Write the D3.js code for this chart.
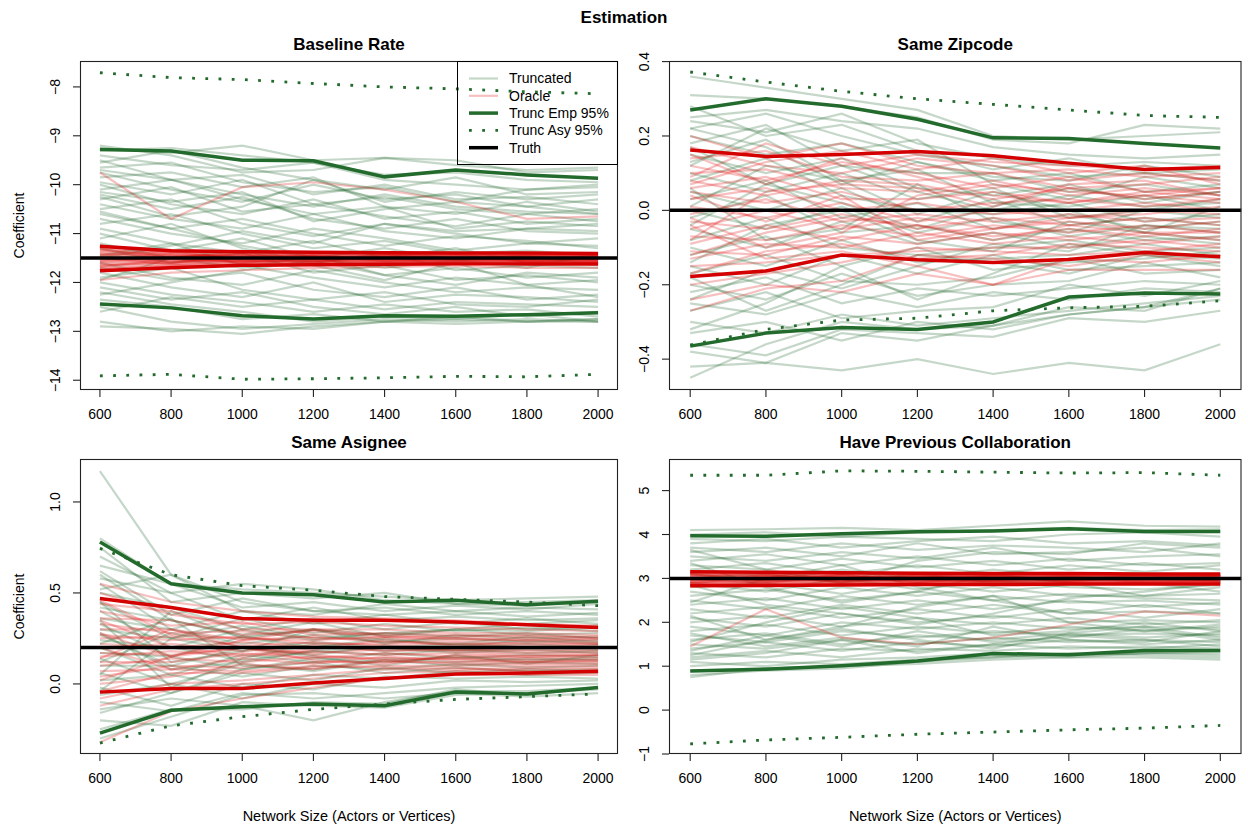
<!DOCTYPE html>
<html lang="en">
<head>
<meta charset="UTF-8">
<title>Estimation</title>
<script src="https://d3js.org/d3.v7.min.js"></script>
<style>
body { margin: 0; background: #fff; }
text { font-family: "Liberation Sans", Arial, Helvetica, sans-serif; fill: #000; }
.main { font-size: 17px; font-weight: bold; }
.lbl { font-size: 14px; }
</style>
</head>
<body>
<svg width="1248" height="826"></svg>
<script>
// network sizes on the x axis
var sizes = [600, 800, 1000, 1200, 1400, 1600, 1800, 2000];
var titles = ["Baseline Rate", "Same Zipcode", "Same Asignee", "Have Previous Collaboration"];
var legendLabels = ["Truncated", "Oracle", "Trunc Emp 95%", "Trunc Asy 95%", "Truth"];

// ---- Baseline Rate ----
var baseTrunc = [
  [-9.25,-9.35,-9.2,-9.5,-9.45,-9.6,-9.7,-9.65],
  [-9.3,-9.25,-9.4,-9.55,-9.8,-9.75,-9.9,-9.95],
  [-9.4,-9.6,-9.7,-9.55,-9.9,-10.0,-10.1,-10.05],
  [-9.55,-9.3,-9.65,-9.9,-10.1,-9.85,-10.2,-10.15],
  [-9.7,-9.9,-9.8,-10.2,-10.0,-10.3,-10.25,-10.4],
  [-9.75,-10.1,-10.35,-10.0,-10.3,-10.2,-10.45,-10.3],
  [-9.85,-9.75,-10.05,-9.85,-10.45,-10.6,-10.35,-10.55],
  [-9.95,-10.2,-9.9,-10.4,-10.25,-10.5,-10.6,-10.5],
  [-10.0,-10.4,-10.6,-10.3,-10.7,-10.55,-10.8,-10.7],
  [-10.1,-9.9,-10.3,-10.6,-10.45,-10.9,-10.75,-10.85],
  [-10.2,-10.5,-10.25,-10.7,-10.9,-10.7,-10.95,-11.0],
  [-10.3,-10.05,-10.55,-10.4,-10.65,-10.85,-10.6,-10.75],
  [-10.4,-10.7,-10.9,-10.6,-10.95,-11.1,-10.9,-10.95],
  [-10.5,-10.3,-10.8,-11.05,-10.8,-11.0,-11.2,-11.1],
  [-10.6,-10.9,-10.7,-11.0,-11.25,-11.05,-11.15,-11.3],
  [-10.7,-11.0,-11.2,-10.9,-11.1,-11.35,-11.2,-11.25],
  [-10.8,-10.6,-11.0,-11.3,-11.15,-11.4,-11.35,-11.45],
  [-10.9,-11.2,-11.4,-11.15,-11.5,-11.3,-11.6,-11.5],
  [-11.0,-11.35,-11.1,-11.5,-11.7,-11.55,-11.45,-11.65],
  [-11.1,-10.8,-11.3,-11.6,-11.4,-11.75,-11.65,-11.7],
  [-11.2,-11.5,-11.7,-11.45,-11.85,-11.7,-11.9,-11.8],
  [-11.3,-11.6,-11.4,-11.8,-11.65,-11.95,-11.85,-12.0],
  [-11.45,-11.2,-11.65,-11.9,-12.1,-11.9,-12.05,-11.95],
  [-11.6,-11.9,-12.05,-11.75,-12.0,-12.2,-12.1,-12.15],
  [-11.7,-11.95,-11.8,-12.15,-12.3,-12.1,-12.35,-12.25],
  [-11.8,-12.1,-12.3,-12.0,-12.4,-12.25,-12.3,-12.4],
  [-11.9,-11.7,-12.15,-12.35,-12.2,-12.45,-12.5,-12.35],
  [-12.0,-12.25,-12.4,-12.6,-12.45,-12.6,-12.55,-12.7],
  [-12.1,-12.35,-12.2,-12.5,-12.65,-12.5,-12.7,-12.6],
  [-12.2,-12.45,-12.6,-12.8,-12.7,-12.75,-12.65,-12.8],
  [-12.35,-12.5,-12.75,-12.65,-12.8,-12.7,-12.8,-12.75],
  [-12.5,-12.8,-12.95,-12.85,-12.75,-12.8,-12.75,-12.8],
  [-12.8,-13.0,-12.9,-12.95,-12.8,-12.85,-12.8,-12.75],
  [-12.9,-12.95,-13.05,-12.9,-12.8,-12.75,-12.8,-12.8],
  [-10.25,-10.65,-10.45,-9.9,-10.35,-10.15,-10.3,-10.2],
  [-11.5,-11.25,-10.95,-11.2,-10.8,-10.95,-10.9,-10.8],
  [-9.5,-9.9,-10.2,-10.45,-10.2,-10.45,-10.55,-10.6],
  [-12.25,-12.0,-11.75,-11.55,-11.85,-12.05,-11.8,-11.9],
  [-10.55,-10.9,-11.25,-11.5,-11.3,-11.55,-11.7,-11.4],
  [-11.95,-11.5,-11.35,-11.65,-11.95,-11.6,-12.05,-12.3],
  [-9.2,-9.4,-9.75,-9.7,-9.45,-9.5,-9.75,-9.7],
  [-10.15,-10.35,-10.15,-10.75,-10.5,-10.35,-10.45,-10.6],
  [-12.6,-12.3,-12.5,-12.35,-12.55,-12.4,-12.45,-12.5],
  [-9.65,-9.55,-9.95,-10.15,-10.05,-10.35,-10.1,-10.0]
];
var baseOracle = [
  [-11.3,-11.4,-11.45,-11.42,-11.45,-11.44,-11.45,-11.43],
  [-11.35,-11.45,-11.5,-11.48,-11.46,-11.5,-11.47,-11.46],
  [-11.4,-11.5,-11.42,-11.52,-11.5,-11.47,-11.52,-11.5],
  [-11.45,-11.35,-11.55,-11.45,-11.52,-11.55,-11.5,-11.52],
  [-11.5,-11.6,-11.48,-11.55,-11.48,-11.52,-11.55,-11.54],
  [-11.55,-11.45,-11.6,-11.5,-11.56,-11.5,-11.53,-11.56],
  [-11.6,-11.55,-11.52,-11.58,-11.54,-11.57,-11.55,-11.58],
  [-11.65,-11.62,-11.58,-11.6,-11.58,-11.56,-11.58,-11.6],
  [-11.7,-11.65,-11.6,-11.55,-11.6,-11.6,-11.57,-11.59],
  [-11.25,-11.38,-11.4,-11.4,-11.42,-11.42,-11.43,-11.44],
  [-11.75,-11.68,-11.63,-11.62,-11.61,-11.6,-11.6,-11.61],
  [-11.42,-11.47,-11.44,-11.47,-11.49,-11.46,-11.48,-11.47],
  [-11.58,-11.5,-11.54,-11.5,-11.5,-11.53,-11.51,-11.53],
  [-11.48,-11.55,-11.57,-11.54,-11.53,-11.52,-11.54,-11.49],
  [-11.62,-11.6,-11.47,-11.46,-11.55,-11.58,-11.49,-11.52],
  [-11.33,-11.42,-11.5,-11.56,-11.52,-11.49,-11.56,-11.55],
  [-11.28,-11.36,-11.4,-11.41,-11.43,-11.43,-11.44,-11.42],
  [-11.72,-11.66,-11.62,-11.6,-11.59,-11.59,-11.59,-11.6],
  [-11.38,-11.44,-11.46,-11.44,-11.47,-11.48,-11.46,-11.45],
  [-11.66,-11.58,-11.56,-11.57,-11.56,-11.55,-11.57,-11.57],
  [-11.52,-11.4,-11.49,-11.52,-11.44,-11.45,-11.5,-11.48],
  [-11.44,-11.58,-11.52,-11.43,-11.57,-11.54,-11.45,-11.55],
  [-11.56,-11.48,-11.43,-11.53,-11.47,-11.51,-11.53,-11.44],
  [-11.68,-11.52,-11.58,-11.49,-11.51,-11.44,-11.47,-11.58],
  [-11.32,-11.5,-11.38,-11.46,-11.41,-11.52,-11.42,-11.5],
  [-11.5,-11.63,-11.55,-11.59,-11.45,-11.41,-11.58,-11.46],
  [-9.75,-10.7,-10.05,-9.95,-10.1,-10.35,-10.7,-10.65],
  [-11.95,-11.8,-11.75,-11.7,-11.68,-11.66,-11.7,-11.7]
];
var baseEmpHi = [-9.28,-9.31,-9.5,-9.51,-9.84,-9.7,-9.8,-9.87];
var baseEmpLo = [-12.44,-12.52,-12.68,-12.75,-12.68,-12.69,-12.66,-12.62];
var baseAsyHi = [-7.71,-7.81,-7.85,-7.93,-8.0,-8.04,-8.1,-8.14];
var baseAsyLo = [-13.91,-13.88,-13.98,-13.97,-13.95,-13.92,-13.93,-13.88];
var baseOrHi = [-11.26,-11.35,-11.37,-11.38,-11.39,-11.4,-11.4,-11.41];
var baseOrLo = [-11.76,-11.7,-11.65,-11.64,-11.63,-11.62,-11.62,-11.62];
var baseTruth = -11.5;

// ---- Same Zipcode ----
var zipTrunc = [
  [0.36,0.33,0.3,0.27,0.2,0.19,0.2,0.21],
  [0.31,0.3,0.28,0.25,0.19,0.18,0.23,0.22],
  [0.25,0.27,0.24,0.22,0.17,0.15,0.14,0.15],
  [0.24,0.21,0.26,0.18,0.14,0.12,0.13,0.12],
  [0.22,0.26,0.2,0.15,0.12,0.09,0.1,0.08],
  [0.2,0.15,0.18,0.13,0.08,0.1,0.05,0.07],
  [0.18,0.23,0.12,0.1,0.1,0.05,0.07,0.04],
  [0.15,0.1,0.14,0.06,0.04,0.07,0.02,0.05],
  [0.13,0.19,0.08,0.11,0.02,0.01,0.04,0.0],
  [0.1,0.05,0.1,0.03,0.06,-0.02,0.0,0.03],
  [0.08,0.14,0.04,0.0,-0.01,0.02,-0.03,-0.01],
  [0.05,0.0,0.06,-0.03,0.03,-0.04,-0.02,-0.04],
  [0.03,0.08,-0.02,0.02,-0.05,-0.01,-0.05,-0.03],
  [0.0,-0.05,0.01,-0.06,-0.02,-0.07,-0.04,-0.06],
  [-0.02,0.04,-0.06,-0.04,-0.08,-0.05,-0.08,-0.07],
  [-0.05,-0.1,-0.03,-0.09,-0.06,-0.1,-0.07,-0.09],
  [-0.08,-0.02,-0.1,-0.12,-0.1,-0.08,-0.11,-0.1],
  [-0.1,-0.15,-0.08,-0.14,-0.13,-0.12,-0.09,-0.12],
  [-0.12,-0.07,-0.15,-0.1,-0.16,-0.14,-0.13,-0.11],
  [-0.15,-0.2,-0.12,-0.17,-0.12,-0.16,-0.15,-0.14],
  [-0.17,-0.12,-0.19,-0.2,-0.18,-0.13,-0.17,-0.16],
  [-0.2,-0.24,-0.17,-0.23,-0.2,-0.19,-0.14,-0.18],
  [-0.22,-0.18,-0.25,-0.21,-0.23,-0.21,-0.19,-0.2],
  [-0.25,-0.28,-0.22,-0.26,-0.22,-0.24,-0.21,-0.22],
  [-0.27,-0.22,-0.29,-0.27,-0.26,-0.2,-0.23,-0.19],
  [-0.3,-0.33,-0.28,-0.31,-0.29,-0.27,-0.25,-0.23],
  [-0.33,-0.3,-0.35,-0.3,-0.32,-0.28,-0.26,-0.24],
  [-0.36,-0.39,-0.32,-0.33,-0.34,-0.29,-0.3,-0.27],
  [-0.38,-0.41,-0.33,-0.35,-0.31,-0.26,-0.27,-0.21],
  [-0.42,-0.41,-0.43,-0.4,-0.44,-0.41,-0.43,-0.36],
  [-0.45,-0.36,-0.3,-0.32,-0.31,-0.28,-0.26,-0.21],
  [0.28,0.2,0.23,0.16,0.11,0.14,0.1,0.11],
  [0.12,0.22,0.16,0.19,0.07,0.03,0.09,0.06],
  [-0.04,0.07,0.12,0.05,0.0,0.04,0.01,0.02],
  [0.06,-0.08,-0.05,0.07,-0.03,-0.06,0.0,-0.02],
  [-0.14,-0.04,0.0,-0.08,-0.11,-0.03,-0.06,-0.08],
  [0.17,0.07,0.02,-0.05,0.01,0.06,0.03,0.05],
  [-0.24,-0.16,-0.21,-0.15,-0.09,-0.11,-0.04,-0.05],
  [-0.32,-0.25,-0.15,-0.24,-0.17,-0.09,-0.12,-0.13],
  [0.01,0.12,0.08,-0.01,0.05,0.0,-0.06,0.01],
  [-0.18,-0.27,-0.2,-0.12,-0.14,-0.17,-0.12,-0.15],
  [0.22,0.17,0.07,0.13,0.09,0.08,0.12,0.09]
];
var zipOracle = [
  [0.2,0.14,0.18,0.12,0.1,0.11,0.09,0.1],
  [0.17,0.12,0.1,0.14,0.12,0.08,0.1,0.08],
  [0.14,0.16,0.09,0.08,0.1,0.06,0.07,0.09],
  [0.12,0.08,0.13,0.1,0.06,0.09,0.05,0.06],
  [0.1,0.11,0.06,0.05,0.08,0.04,0.06,0.04],
  [0.08,0.04,0.08,0.07,0.03,0.06,0.03,0.05],
  [0.06,0.09,0.03,0.03,0.05,0.02,0.04,0.02],
  [0.05,0.02,0.05,0.0,0.02,0.03,0.01,0.03],
  [0.03,0.06,0.0,0.02,-0.01,0.0,0.02,0.0],
  [0.01,-0.02,0.02,-0.03,0.0,-0.02,-0.01,0.01],
  [-0.01,0.03,-0.03,-0.01,-0.03,-0.01,-0.03,-0.02],
  [-0.03,-0.05,-0.01,-0.05,-0.02,-0.04,-0.02,-0.04],
  [-0.05,0.0,-0.05,-0.02,-0.05,-0.03,-0.05,-0.03],
  [-0.07,-0.08,-0.04,-0.07,-0.04,-0.06,-0.04,-0.06],
  [-0.09,-0.04,-0.08,-0.04,-0.07,-0.05,-0.07,-0.05],
  [-0.11,-0.12,-0.07,-0.09,-0.06,-0.08,-0.06,-0.08],
  [-0.13,-0.09,-0.1,-0.06,-0.09,-0.07,-0.09,-0.07],
  [-0.15,-0.14,-0.12,-0.11,-0.1,-0.1,-0.08,-0.1],
  [-0.17,-0.11,-0.09,-0.13,-0.12,-0.09,-0.1,-0.11],
  [-0.2,-0.17,-0.14,-0.1,-0.11,-0.12,-0.11,-0.09],
  [-0.24,-0.2,-0.22,-0.17,-0.2,-0.16,-0.16,-0.16],
  [-0.27,-0.21,-0.19,-0.12,-0.13,-0.15,-0.12,-0.14],
  [0.09,0.18,0.12,0.15,0.13,0.12,0.11,0.12],
  [-0.02,-0.1,-0.06,0.04,0.07,0.05,0.04,0.06],
  [0.04,-0.03,0.04,-0.08,-0.05,-0.02,0.0,-0.01],
  [0.15,0.07,0.14,0.09,0.04,0.02,0.05,0.03],
  [-0.08,0.05,0.07,0.06,0.01,0.07,0.08,0.04],
  [-0.12,-0.06,-0.02,-0.04,-0.08,-0.04,-0.06,-0.06],
  [0.07,0.13,0.16,0.11,0.14,0.1,0.12,0.07],
  [-0.04,-0.13,-0.11,-0.15,-0.2,-0.13,-0.14,-0.12]
];
var zipEmpHi = [0.27,0.3,0.28,0.245,0.195,0.193,0.18,0.168];
var zipEmpLo = [-0.365,-0.33,-0.315,-0.32,-0.3,-0.233,-0.222,-0.225];
var zipAsyHi = [0.372,0.345,0.32,0.3,0.285,0.27,0.255,0.25];
var zipAsyLo = [-0.362,-0.32,-0.295,-0.29,-0.27,-0.262,-0.258,-0.243];
var zipOrHi = [0.162,0.145,0.15,0.158,0.147,0.127,0.11,0.115];
var zipOrLo = [-0.178,-0.163,-0.12,-0.133,-0.14,-0.132,-0.113,-0.125];
var zipTruth = 0;

// ---- Same Asignee ----
var asgTrunc = [
  [1.17,0.6,0.45,0.4,0.38,0.4,0.37,0.39],
  [0.8,0.55,0.52,0.5,0.48,0.46,0.47,0.48],
  [0.75,0.45,0.5,0.47,0.5,0.44,0.45,0.46],
  [0.65,0.55,0.42,0.45,0.4,0.43,0.41,0.44],
  [0.62,0.38,0.47,0.4,0.42,0.38,0.4,0.38],
  [0.58,0.5,0.35,0.42,0.35,0.37,0.35,0.36],
  [0.55,0.3,0.4,0.33,0.38,0.33,0.36,0.33],
  [0.5,0.42,0.3,0.36,0.3,0.34,0.3,0.32],
  [0.45,0.25,0.36,0.28,0.33,0.29,0.31,0.29],
  [0.42,0.35,0.26,0.3,0.27,0.3,0.27,0.28],
  [0.4,0.2,0.3,0.24,0.28,0.26,0.28,0.25],
  [0.36,0.3,0.22,0.27,0.23,0.25,0.23,0.24],
  [0.33,0.15,0.26,0.2,0.25,0.21,0.24,0.22],
  [0.3,0.25,0.18,0.23,0.2,0.22,0.2,0.21],
  [0.27,0.1,0.2,0.16,0.21,0.18,0.2,0.19],
  [0.24,0.2,0.13,0.18,0.16,0.19,0.17,0.18],
  [0.2,0.05,0.16,0.12,0.17,0.14,0.16,0.15],
  [0.17,0.15,0.08,0.14,0.12,0.15,0.13,0.14],
  [0.14,0.0,0.11,0.07,0.13,0.1,0.12,0.11],
  [0.1,0.1,0.04,0.1,0.08,0.11,0.09,0.1],
  [0.06,-0.05,0.06,0.02,0.09,0.06,0.08,0.07],
  [0.02,0.05,-0.02,0.05,0.03,0.07,0.05,0.06],
  [-0.02,-0.12,0.0,-0.03,0.04,0.03,0.04,0.03],
  [-0.06,0.0,-0.08,0.0,-0.02,0.02,0.01,0.02],
  [-0.1,-0.15,-0.05,-0.08,-0.05,-0.02,-0.01,0.0],
  [-0.14,-0.08,-0.12,-0.2,-0.1,-0.04,-0.04,-0.02],
  [-0.2,-0.23,-0.1,-0.12,-0.13,-0.06,-0.05,-0.03],
  [-0.25,-0.14,-0.14,-0.1,-0.11,-0.03,-0.06,-0.02],
  [-0.3,-0.18,-0.06,-0.05,-0.08,-0.05,-0.07,-0.05],
  [0.52,0.6,0.4,0.38,0.44,0.4,0.42,0.41],
  [0.05,0.4,0.25,0.3,0.22,0.27,0.25,0.26],
  [0.35,-0.02,0.14,0.22,0.18,0.2,0.22,0.2],
  [-0.04,0.25,0.32,0.25,0.28,0.3,0.29,0.31],
  [0.22,0.36,0.1,0.08,0.14,0.12,0.14,0.13],
  [0.6,0.35,0.27,0.34,0.26,0.3,0.33,0.35],
  [0.12,0.28,0.2,0.15,0.1,0.16,0.11,0.16],
  [0.45,0.12,0.18,0.3,0.24,0.22,0.26,0.23],
  [-0.16,-0.05,0.08,0.12,0.06,0.09,0.07,0.08],
  [0.7,0.5,0.55,0.52,0.46,0.44,0.43,0.45],
  [0.28,0.08,0.12,0.18,0.2,0.17,0.19,0.17]
];
var asgOracle = [
  [0.55,0.45,0.4,0.37,0.36,0.35,0.33,0.32],
  [0.5,0.38,0.33,0.34,0.32,0.31,0.3,0.29],
  [0.44,0.4,0.3,0.3,0.3,0.28,0.28,0.27],
  [0.4,0.32,0.34,0.27,0.28,0.27,0.26,0.26],
  [0.36,0.35,0.27,0.29,0.26,0.25,0.25,0.24],
  [0.33,0.28,0.29,0.25,0.25,0.24,0.24,0.23],
  [0.3,0.3,0.24,0.26,0.23,0.23,0.22,0.22],
  [0.27,0.24,0.26,0.22,0.22,0.22,0.21,0.21],
  [0.25,0.26,0.21,0.23,0.21,0.2,0.2,0.2],
  [0.22,0.2,0.23,0.2,0.2,0.19,0.19,0.19],
  [0.2,0.22,0.18,0.21,0.18,0.19,0.18,0.18],
  [0.17,0.16,0.2,0.17,0.19,0.18,0.17,0.17],
  [0.15,0.18,0.15,0.18,0.16,0.17,0.16,0.16],
  [0.12,0.12,0.17,0.14,0.17,0.15,0.15,0.15],
  [0.1,0.14,0.12,0.15,0.14,0.14,0.14,0.14],
  [0.07,0.08,0.14,0.11,0.15,0.13,0.13,0.13],
  [0.04,0.1,0.09,0.12,0.12,0.12,0.12,0.12],
  [0.0,0.04,0.11,0.08,0.13,0.11,0.11,0.11],
  [-0.04,0.06,0.06,0.09,0.1,0.1,0.1,0.1],
  [-0.08,0.0,0.02,0.05,0.08,0.08,0.09,0.09],
  [-0.12,-0.03,0.0,0.03,0.06,0.07,0.08,0.08],
  [-0.32,-0.15,-0.08,-0.02,0.03,0.05,0.05,0.05],
  [0.28,0.15,0.24,0.3,0.27,0.26,0.27,0.25],
  [0.14,0.3,0.2,0.13,0.11,0.16,0.15,0.16],
  [0.35,0.2,0.16,0.19,0.24,0.21,0.23,0.22],
  [0.02,0.15,0.2,0.16,0.13,0.14,0.12,0.13],
  [0.2,0.08,0.07,0.1,0.09,0.09,0.07,0.06],
  [0.46,0.27,0.25,0.24,0.26,0.25,0.24,0.25]
];
var asgEmpHi = [0.78,0.55,0.5,0.49,0.45,0.46,0.435,0.455];
var asgEmpLo = [-0.27,-0.145,-0.125,-0.11,-0.12,-0.045,-0.055,-0.02];
var asgAsyHi = [0.745,0.6,0.54,0.515,0.48,0.465,0.45,0.43];
var asgAsyLo = [-0.325,-0.23,-0.18,-0.14,-0.11,-0.085,-0.07,-0.055];
var asgOrHi = [0.47,0.42,0.36,0.35,0.35,0.34,0.325,0.31];
var asgOrLo = [-0.045,-0.025,-0.025,0.005,0.03,0.055,0.06,0.07];
var asgTruth = 0.2;

// ---- Have Previous Collaboration ----
var collTrunc = [
  [4.1,4.12,4.15,4.1,4.2,4.3,4.2,4.18],
  [4.0,4.05,3.95,4.05,4.1,4.15,4.1,4.12],
  [3.9,3.85,3.95,3.9,3.85,4.0,4.05,3.95],
  [3.8,3.9,3.7,3.85,3.95,3.8,3.85,3.75],
  [3.7,3.6,3.8,3.65,3.75,3.7,3.6,3.8],
  [3.6,3.7,3.5,3.8,3.55,3.6,3.7,3.5],
  [3.5,3.4,3.6,3.45,3.7,3.4,3.5,3.55],
  [3.4,3.55,3.3,3.5,3.3,3.45,3.3,3.35],
  [3.3,3.2,3.45,3.25,3.4,3.2,3.35,3.2],
  [3.2,3.35,3.1,3.3,3.1,3.3,3.15,3.3],
  [3.1,2.95,3.2,3.0,3.2,3.05,3.0,2.95],
  [3.0,3.1,2.9,3.1,2.9,2.95,3.1,3.05],
  [2.9,2.7,3.0,2.75,2.95,2.8,2.75,2.85],
  [2.8,2.9,2.65,2.9,2.7,2.85,2.9,2.7],
  [2.7,2.5,2.8,2.6,2.8,2.6,2.6,2.65],
  [2.6,2.75,2.5,2.7,2.5,2.65,2.55,2.5],
  [2.5,2.3,2.6,2.4,2.6,2.45,2.5,2.4],
  [2.4,2.55,2.3,2.5,2.3,2.5,2.35,2.45],
  [2.3,2.1,2.4,2.2,2.4,2.2,2.25,2.2],
  [2.2,2.35,2.1,2.3,2.1,2.3,2.1,2.3],
  [2.1,1.9,2.2,2.0,2.15,2.0,2.05,2.0],
  [2.0,2.15,1.9,2.1,1.95,2.1,1.95,2.05],
  [1.9,1.7,2.0,1.85,2.0,1.85,1.9,1.85],
  [1.8,1.95,1.7,1.9,1.75,1.9,1.8,1.9],
  [1.7,1.55,1.8,1.65,1.8,1.7,1.75,1.7],
  [1.6,1.75,1.5,1.7,1.6,1.75,1.65,1.75],
  [1.5,1.4,1.6,1.5,1.65,1.55,1.6,1.55],
  [1.4,1.55,1.35,1.55,1.45,1.6,1.5,1.6],
  [1.3,1.2,1.4,1.35,1.5,1.4,1.45,1.4],
  [1.2,1.35,1.2,1.4,1.35,1.45,1.4,1.5],
  [1.1,1.0,1.15,1.2,1.3,1.25,1.3,1.3],
  [1.0,1.1,1.05,1.15,1.2,1.3,1.25,1.2],
  [0.9,0.95,1.0,1.05,1.15,1.2,1.2,1.15],
  [0.8,0.9,0.95,1.1,1.25,1.2,1.3,1.25],
  [0.75,0.95,1.0,1.1,1.2,1.25,1.3,1.35],
  [3.35,2.8,2.45,2.7,3.1,2.9,2.6,2.8],
  [2.45,3.0,3.3,2.8,2.5,2.2,2.4,2.2],
  [1.55,2.0,2.35,2.1,1.7,1.8,2.0,1.8],
  [2.15,1.6,1.9,2.35,2.6,2.0,1.8,1.95],
  [3.65,3.2,2.9,3.4,3.6,3.55,3.8,3.7],
  [1.25,1.6,1.85,1.6,1.4,1.75,1.9,1.65],
  [2.85,2.4,2.2,1.95,2.2,2.55,2.7,2.9],
  [1.35,1.7,1.45,1.8,1.55,1.65,1.85,1.6],
  [1.75,1.45,1.65,1.45,1.9,1.6,1.55,1.8],
  [1.15,1.3,1.6,1.3,1.5,1.7,1.6,1.45]
];
var collOracle = [
  [3.15,3.12,3.1,3.12,3.1,3.1,3.1,3.1],
  [3.1,3.05,3.08,3.06,3.08,3.06,3.07,3.08],
  [3.05,3.1,3.02,3.05,3.04,3.05,3.04,3.05],
  [3.0,3.02,3.05,3.0,3.02,3.02,3.02,3.02],
  [2.97,2.98,2.99,3.02,2.99,3.0,3.0,2.99],
  [2.93,2.96,2.95,2.97,2.97,2.97,2.98,2.97],
  [2.9,2.92,2.93,2.94,2.95,2.95,2.95,2.95],
  [2.86,2.88,2.9,2.9,2.92,2.92,2.93,2.92],
  [2.83,2.85,2.87,2.88,2.89,2.9,2.9,2.9],
  [3.12,3.08,3.06,3.08,3.06,3.08,3.05,3.06],
  [2.88,2.94,2.97,2.95,2.94,2.93,2.96,2.93],
  [3.02,2.95,3.0,3.04,3.0,2.98,3.01,3.03],
  [2.95,3.03,2.96,2.98,3.03,3.03,2.97,2.98],
  [3.08,3.0,3.04,2.99,2.96,3.0,3.03,3.0],
  [2.92,2.99,3.01,3.03,3.05,2.96,2.99,3.04],
  [3.13,3.1,3.11,3.1,3.09,3.09,3.08,3.08],
  [2.85,2.87,2.88,2.89,2.9,2.89,2.91,2.9],
  [3.07,3.06,3.03,3.07,3.05,3.07,3.06,3.04],
  [2.9,2.9,2.92,2.92,2.91,2.93,2.92,2.94],
  [2.98,3.05,2.97,3.01,3.06,3.04,3.05,3.01],
  [3.04,2.97,3.07,2.96,2.94,2.99,2.94,2.96],
  [2.96,3.01,2.94,3.06,3.01,2.95,3.02,2.99],
  [3.1,2.93,2.99,2.93,2.98,3.01,2.97,3.07],
  [2.88,3.08,2.91,3.0,2.93,3.06,2.9,2.96],
  [3.01,2.89,3.09,2.9,3.08,2.91,3.09,2.92],
  [1.45,2.3,1.65,1.5,1.65,1.95,2.25,2.15]
];
var collEmpHi = [3.97,3.96,4.02,4.06,4.08,4.13,4.07,4.07];
var collEmpLo = [0.89,0.93,1.01,1.12,1.29,1.26,1.36,1.36];
var collAsyHi = [5.35,5.35,5.45,5.44,5.42,5.4,5.41,5.35];
var collAsyLo = [-0.77,-0.68,-0.62,-0.55,-0.5,-0.45,-0.41,-0.35];
var collOrHi = [3.15,3.14,3.13,3.12,3.11,3.11,3.1,3.1];
var collOrLo = [2.83,2.84,2.85,2.86,2.86,2.87,2.87,2.87];
var collTruth = 3;

// axis tick values
var baseTicks = [-14, -13, -12, -11, -10, -9, -8];
var zipTicks = [-0.4, -0.2, 0, 0.2, 0.4];
var asgTicks = [0, 0.5, 1];
var collTicks = [-1, 0, 1, 2, 3, 4, 5];

var GREEN = "#236b2c", RED = "#d40000";
var greenT = "rgba(40,108,50,0.27)", redT = "rgba(226,10,10,0.26)";
var DOTS = "2.8 10.4";

var panels = [
  {title: titles[0], trunc: baseTrunc, oracle: baseOracle, empHi: baseEmpHi, empLo: baseEmpLo,
   asyHi: baseAsyHi, asyLo: baseAsyLo, orHi: baseOrHi, orLo: baseOrLo, truth: baseTruth,
   ticks: baseTicks, fmt: d3.format("d"), yDom: [-14.2, -7.47],
   box: [80, 61, 618, 390], ylab: true, xlab: false, legend: true},
  {title: titles[1], trunc: zipTrunc, oracle: zipOracle, empHi: zipEmpHi, empLo: zipEmpLo,
   asyHi: zipAsyHi, asyLo: zipAsyLo, orHi: zipOrHi, orLo: zipOrLo, truth: zipTruth,
   ticks: zipTicks, fmt: d3.format(".1f"), yDom: [-0.483, 0.4016],
   box: [669, 61, 1241.5, 390], ylab: false, xlab: false},
  {title: titles[2], trunc: asgTrunc, oracle: asgOracle, empHi: asgEmpHi, empLo: asgEmpLo,
   asyHi: asgAsyHi, asyLo: asgAsyLo, orHi: asgOrHi, orLo: asgOrLo, truth: asgTruth,
   ticks: asgTicks, fmt: d3.format(".1f"), yDom: [-0.385, 1.236],
   box: [80, 459, 618, 754], ylab: true, xlab: true},
  {title: titles[3], trunc: collTrunc, oracle: collOracle, empHi: collEmpHi, empLo: collEmpLo,
   asyHi: collAsyHi, asyLo: collAsyLo, orHi: collOrHi, orLo: collOrLo, truth: collTruth,
   ticks: collTicks, fmt: d3.format("d"), yDom: [-1.0, 5.72],
   box: [669, 459, 1241.5, 754], ylab: false, xlab: true}
];

var svg = d3.select("svg");
svg.append("rect").attr("width", 1248).attr("height", 826).attr("fill", "#fff");

svg.append("text").attr("class", "main")
  .attr("x", 624).attr("y", 17).attr("dy", "0.35em")
  .attr("text-anchor", "middle").text("Estimation");

function minus(s) { return s.replace("-", "\u2212"); }

panels.forEach(function(p, i) {
  var x0 = p.box[0], y0 = p.box[1], x1 = p.box[2], y1 = p.box[3];
  var x = d3.scaleLinear().domain([544, 2056]).range([x0, x1]);
  var y = d3.scaleLinear().domain(p.yDom).range([y1, y0]);
  var line = d3.line().x(function(d, j) { return x(sizes[j]); }).y(function(d) { return y(d); });

  svg.append("clipPath").attr("id", "clip" + i)
    .append("rect").attr("x", x0).attr("y", y0).attr("width", x1 - x0).attr("height", y1 - y0);

  var g = svg.append("g").attr("clip-path", "url(#clip" + i + ")");

  g.selectAll("path.trunc").data(p.trunc).enter().append("path")
    .attr("class", "trunc").attr("d", line)
    .attr("fill", "none").attr("stroke", greenT).attr("stroke-width", 2.2);

  g.selectAll("path.oracle").data(p.oracle).enter().append("path")
    .attr("class", "oracle").attr("d", line)
    .attr("fill", "none").attr("stroke", redT).attr("stroke-width", 2.2);

  [p.orHi, p.orLo].forEach(function(s) {
    g.append("path").attr("d", line(s)).attr("fill", "none")
      .attr("stroke", RED).attr("stroke-width", 3.5);
  });

  g.append("line").attr("x1", x0).attr("x2", x1)
    .attr("y1", y(p.truth)).attr("y2", y(p.truth))
    .attr("stroke", "#000").attr("stroke-width", 3.5);

  [p.empHi, p.empLo].forEach(function(s) {
    g.append("path").attr("d", line(s)).attr("fill", "none")
      .attr("stroke", GREEN).attr("stroke-width", 3.5);
  });

  [p.asyHi, p.asyLo].forEach(function(s) {
    g.append("path").attr("d", line(s)).attr("fill", "none")
      .attr("stroke", GREEN).attr("stroke-width", 2.8)
      .attr("stroke-dasharray", DOTS);
  });

  // frame
  svg.append("rect").attr("x", x0 + 0.5).attr("y", y0 + 0.5)
    .attr("width", x1 - x0 - 1).attr("height", y1 - y0 - 1)
    .attr("fill", "none").attr("stroke", "#222").attr("stroke-width", 1.1);

  // x axis
  var xa = svg.append("g");
  xa.selectAll("line").data(sizes).enter().append("line")
    .attr("x1", function(d) { return x(d); }).attr("x2", function(d) { return x(d); })
    .attr("y1", y1).attr("y2", y1 + 7).attr("stroke", "#222").attr("stroke-width", 1.1);
  xa.selectAll("text").data(sizes).enter().append("text").attr("class", "lbl")
    .attr("x", function(d) { return x(d); }).attr("y", y1 + 24).attr("dy", "0.35em")
    .attr("text-anchor", "middle").text(function(d) { return d; });

  // y axis
  var ya = svg.append("g");
  ya.selectAll("line").data(p.ticks).enter().append("line")
    .attr("x1", x0 - 7).attr("x2", x0)
    .attr("y1", function(d) { return y(d); }).attr("y2", function(d) { return y(d); })
    .attr("stroke", "#222").attr("stroke-width", 1.1);
  ya.selectAll("text").data(p.ticks).enter().append("text").attr("class", "lbl")
    .attr("transform", function(d) { return "translate(" + (x0 - 25) + "," + y(d) + ") rotate(-90)"; })
    .attr("dy", "0.35em").attr("text-anchor", "middle")
    .text(function(d) { return minus(p.fmt(d)); });

  svg.append("text").attr("class", "main")
    .attr("x", (x0 + x1) / 2).attr("y", y0 - 17).attr("dy", "0.35em")
    .attr("text-anchor", "middle").text(p.title);

  if (p.ylab) {
    svg.append("text").attr("class", "lbl")
      .attr("transform", "translate(19," + (y0 + y1) / 2 + ") rotate(-90)")
      .attr("dy", "0.35em").attr("text-anchor", "middle").text("Coefficient");
  }
  if (p.xlab) {
    svg.append("text").attr("class", "lbl")
      .attr("x", (x0 + x1) / 2).attr("y", y1 + 62).attr("dy", "0.35em")
      .attr("text-anchor", "middle").style("font-size", "14.5px")
      .text("Network Size (Actors or Vertices)");
  }

  if (p.legend) {
    var lg = svg.append("g");
    lg.append("rect").attr("x", 457.5).attr("y", y0 + 0.5)
      .attr("width", x1 - 457.5 - 0.5).attr("height", 103)
      .attr("fill", "none").attr("stroke", "#000").attr("stroke-width", 1);
    var styles = [
      {c: greenT, w: 2.2, dash: null},
      {c: redT, w: 2.2, dash: null},
      {c: GREEN, w: 3.5, dash: null},
      {c: GREEN, w: 2.8, dash: DOTS},
      {c: "#000", w: 3.5, dash: null}
    ];
    legendLabels.forEach(function(lab, k) {
      var ly = 78.5 + k * 17.3;
      lg.append("line").attr("x1", 469).attr("x2", 498).attr("y1", ly).attr("y2", ly)
        .attr("stroke", styles[k].c).attr("stroke-width", styles[k].w)
        .attr("stroke-dasharray", styles[k].dash);
      lg.append("text").attr("class", "lbl").attr("x", 509).attr("y", ly)
        .attr("dy", "0.35em").text(lab);
    });
  }
});
</script>
</body>
</html>
